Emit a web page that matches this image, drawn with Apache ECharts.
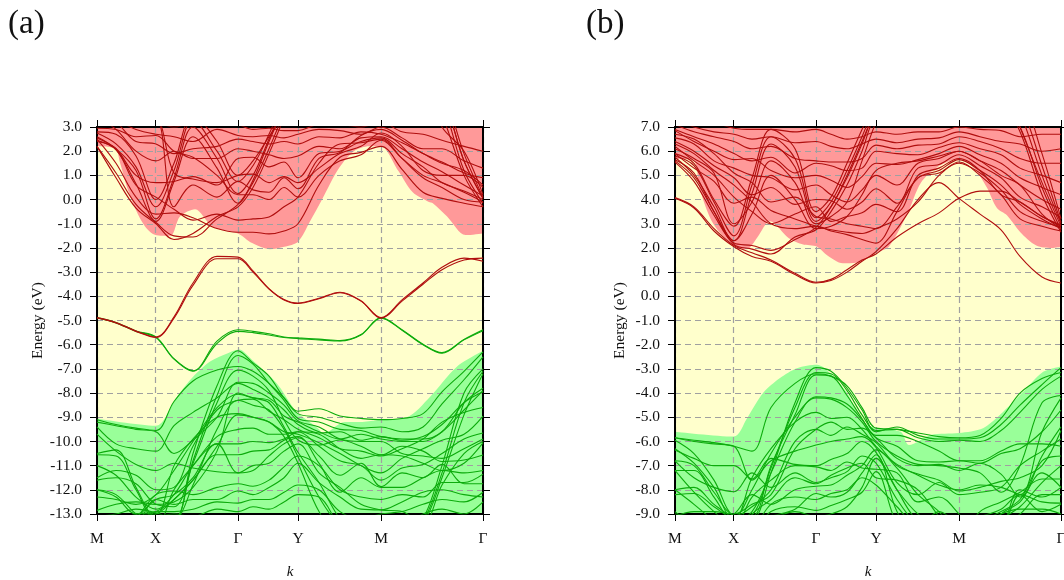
<!DOCTYPE html>
<html><head><meta charset="utf-8">
<style>html,body{margin:0;padding:0;background:#fff}#c{width:1064px;height:580px}</style>
<script src="https://cdn.jsdelivr.net/npm/echarts@6/dist/echarts.min.js"></script>
</head><body><div id="c"></div>
<script>
const kGrid=[0,.0492,.1010,.1528,.1995,.2487,.3109,.3653,.4041,.4456,.4845,.5207,.5751,.6295,.6839,.7358,.7902,.8446,.8938,.9508,1];
const kTicks=[0,.1516,.3653,.5207,.7358,1];
const kLabels=['M','X','Γ','Y','M','Γ'];

// panel (a)
const aCond=[
[-4.9,-5.1,-5.45,-5.7,-4.9,-3.55,-2.45,-2.45,-3.0,-3.7,-4.15,-4.3,-4.1,-3.85,-4.2,-4.9,-4.2,-3.5,-2.9,-2.5,-2.42],
[-4.88,-5.08,-5.43,-5.68,-4.85,-3.45,-2.35,-2.38,-2.95,-3.68,-4.13,-4.28,-4.08,-3.83,-4.18,-4.88,-4.15,-3.45,-2.8,-2.42,-2.55],
[2.2,0.9,-0.35,-1.0,-1.65,-1.4,-0.7,-0.3,0.5,1.9,3.4,5,5,5,5,5,5,5,3.5,1.0,-0.3],
[2.2,1.1,-0.2,-0.95,-1.5,-1.55,-0.8,-0.2,0.7,2.1,3.6,5,5,5,5,5,5,5,4,1.2,-0.15],
[2.5,1.5,0.1,-0.6,-0.55,-0.75,-1.2,-1.35,-1.35,-1.42,-1.3,-1.0,0.6,1.75,1.95,2.2,1.25,0.3,0.05,-0.15,-0.3],
[2.45,2.05,0.65,-0.9,0.75,2.6,1.3,-0.15,0.8,2.4,3.8,5,5,5,5,5,5,5,4.3,1.6,0.05],
[2.6,2.1,1.2,-0.8,0.9,3.0,1.7,0.25,1.0,2.5,3.9,5,5,5,5,5,5,5,4.3,1.6,0.05],
[2.75,2.3,1.35,-0.3,1.2,3.3,2.0,0.75,1.4,2.7,4.1,5,5,5,5,5,5,5.5,4.6,1.9,0.1],
[2.8,2.7,1.8,0.0,1.5,3.5,2.4,1.0,1.6,2.6,3.5,4.5,5,5,5,5,5,4.9,3.0,2.0,0.2],
[2.95,2.9,2.6,2.65,2.0,1.75,1.0,0.2,0.2,0.0,0.5,0.1,1.0,1.6,1.85,2.45,1.7,1.0,0.7,0.3,-0.1],
[2.4,2.1,0.6,0.1,-0.4,-0.85,-0.6,-0.85,-0.8,-0.72,-0.3,0.1,1.5,2.3,2.35,2.5,1.7,0.9,0.5,0.0,-0.1],
[2.55,2.1,1.0,0.7,0.75,0.95,0.6,1.7,1.75,1.35,1.55,0.9,1.9,2.0,2.4,2.55,1.9,1.35,0.7,0.35,0.0],
[3.4,2.9,2.0,1.6,2.0,1.7,1.7,2.1,2.0,1.85,1.7,1.8,2.2,2.1,2.55,2.6,2.1,1.55,1.15,0.6,0.15],
[3.5,3.2,2.4,2.3,1.9,2.1,2.2,2.5,2.4,2.3,2.4,2.3,2.6,2.55,2.8,2.7,2.35,1.9,1.5,1.2,0.6],
[3.7,3.3,2.9,2.7,2.6,2.4,2.9,2.65,2.6,2.65,2.55,2.7,2.9,2.85,2.7,3.0,2.55,2.1,2.1,1.6,1.3],
[3.9,3.6,3.3,3.2,3.0,3.2,3.3,3.1,2.9,2.95,2.85,2.85,3.1,3.1,3.0,3.2,2.8,2.7,2.45,2.2,2.0],
[4.2,3.9,3.5,3.4,1.1,0.85,0.7,1.0,1.05,0.7,0.95,0.7,1.3,1.9,2.2,2.75,2.2,1.2,1.0,1.0,0.5],
[4.3,4,3.6,3.5,-0.3,0.6,0.1,0.75,0.4,0.3,0.9,0.45,1.7,1.95,2.65,2.9,2.45,1.9,1.55,1.1,0.9]
];
const aVal=[
[-4.9,-5.1,-5.45,-5.7,-6.6,-7.1,-5.95,-5.45,-5.5,-5.6,-5.7,-5.75,-5.8,-5.85,-5.6,-4.9,-5.4,-6.0,-6.35,-5.8,-5.42],
[-4.88,-5.08,-5.43,-5.68,-6.58,-7.08,-5.85,-5.38,-5.45,-5.55,-5.68,-5.72,-5.77,-5.83,-5.58,-4.88,-5.38,-5.98,-6.33,-5.78,-5.38],
[-9.1,-9.3,-9.45,-9.55,-8.35,-7.5,-7.05,-6.9,-7.1,-7.6,-8.2,-8.75,-8.65,-8.95,-9.05,-9.1,-9.05,-8.85,-7.95,-7.1,-6.3],
[-10.5,-10.35,-11.9,-13.2,-13.3,-10.5,-7.7,-6.25,-6.75,-7.3,-8.2,-8.85,-9.0,-9.25,-9.45,-9.4,-9.6,-9.4,-8.45,-7.45,-6.5],
[-10.55,-10.6,-12.0,-13.2,-13.2,-10.8,-8.1,-6.45,-6.8,-7.6,-8.3,-9.05,-9.2,-9.5,-9.55,-9.8,-9.9,-9.9,-9.6,-8.4,-7.8],
[-11.6,-11.5,-11.75,-12.6,-12.7,-10.9,-8.4,-7.05,-7.3,-7.9,-9.1,-9.94,-10.15,-9.94,-10.2,-10.56,-10.2,-10.4,-10.83,-10.77,-10.56],
[-9.4,-10.1,-10.3,-10.4,-9.35,-8.8,-8.2,-7.6,-7.85,-8.2,-8.7,-9.3,-9.65,-9.6,-9.95,-9.8,-9.95,-9.8,-9.3,-8.4,-7.95],
[-9.7,-10.4,-10.95,-11.2,-10.9,-11.1,-11.25,-11.3,-11.2,-10.6,-10.1,-9.85,-10.6,-11.4,-10.9,-11.87,-11.3,-11.5,-10.95,-11.75,-11.75],
[-12.85,-12.6,-12.5,-12.6,-12.5,-11.9,-10.4,-8,-8.2,-8.4,-9.4,-10.45,-11.7,-13.2,-14,-14,-14,-13.3,-11.3,-8.4,-7.1],
[-13.1,-13,-12.8,-12.95,-13.2,-11.8,-9.5,-8.3,-8.5,-8.7,-9.5,-10.63,-12.3,-13.5,-14,-14,-14,-13.4,-11.5,-8.9,-7.2],
[-14,-13.5,-13.1,-13,-12.4,-11.6,-10.2,-8.9,-9,-9.2,-9.8,-10.9,-12.9,-14,-14,-14,-14,-13.2,-11,-8,-7],
[-12,-12.2,-13,-13.5,-12,-11,-9.8,-9.5,-9.45,-9.7,-9.7,-9.6,-9.7,-10.3,-10.7,-10.55,-10.6,-10.9,-11.2,-10.9,-10.05],
[-13.3,-13.2,-13.1,-12.4,-12.2,-11.5,-10.1,-10.1,-10.0,-10.05,-9.9,-9.6,-10.2,-10.8,-11,-11.6,-11.1,-10.95,-10.5,-9.9,-9.65],
[-13.5,-13.4,-13,-12.9,-12.4,-11.6,-10.55,-10.55,-10.4,-10.35,-9.95,-9.8,-10.9,-12.1,-11.5,-11.9,-11.9,-11.5,-11.2,-11.3,-11.2],
[-14,-14,-13.2,-12.2,-12.05,-12.2,-11.9,-11.75,-11.85,-11.6,-11.05,-10.6,-11.0,-12.0,-12.3,-12.4,-12.2,-12.3,-11.7,-11.7,-11.35],
[-14,-14,-13.5,-12.4,-12.6,-12.4,-12.4,-12.05,-12.2,-11.9,-11.5,-10.9,-11.7,-12.3,-12.8,-12.83,-12.5,-12.1,-12,-12.2,-12.3],
[-14,-14,-14,-12.9,-12.9,-12.8,-12.5,-12.55,-12.4,-12.4,-12.1,-11.8,-12.0,-12.9,-13.2,-13,-12.9,-12.6,-12.4,-12.5,-12.1],
[-14,-14,-14,-13.2,-13,-13.1,-12.8,-12.9,-12.7,-12.8,-12.5,-12.2,-12.3,-13.5,-14,-14,-13.5,-13,-12.8,-13,-12.5],
[-12.3,-12.4,-12.6,-12.2,-11.2,-10,-8.6,-8.05,-8.2,-8.3,-8.95,-9.2,-9.6,-9.9,-9.7,-9.9,-10.0,-10.0,-9.6,-8.7,-7.9],
[-11.5,-11.2,-11.4,-12,-11.9,-10.2,-8.7,-8.3,-8.25,-8.75,-9.1,-9.5,-9.85,-10.3,-10.4,-10.6,-10.3,-9.9,-9.2,-8.8,-8.6],
[-12,-12.3,-13,-13,-11,-9.9,-9.0,-8.85,-9,-9.2,-9.6,-9.7,-10.05,-10.5,-11,-11.3,-10.7,-10.3,-9.95,-9.7,-8.95],
[-9.2,-9.35,-9.5,-9.6,-10.5,-9.95,-9.0,-7.55,-7.6,-8.0,-8.5,-9.15,-9.4,-9.9,-10.0,-10,-10.5,-10.6,-10.7,-10.3,-9.9],
[-11,-11.4,-12.3,-12.8,-12.2,-11.0,-10.1,-11.3,-11.0,-10.9,-10.4,-10.1,-11.3,-11.9,-12.6,-12.83,-12.9,-13.4,-11.8,-10.5,-10.0]
];
const aRedEdgeK=[0,.047,.06,.078,.1,.124,.15,.19,.215,.254,.298,.365,.402,.448,.485,.521,.552,.583,.627,.666,.705,.735,.78,.818,.86,.87,.907,.955,1];
const aRedEdgeE=[2.2,2.1,1.5,0.5,-0.4,-1.1,-1.45,-1.5,-0.7,-0.4,-1.1,-1.4,-1.8,-2.05,-1.95,-1.74,-0.9,0,1.3,2.0,2.2,2.2,1.2,0.3,-0.1,-0.15,-0.7,-1.47,-1.4];
const aGreenEdgeK=[0,.152,.207,.249,.293,.339,.368,.4,.466,.508,.521,.575,.585,.642,.672,.736,.803,.863,.933,1];
const aGreenEdgeE=[-9.05,-9.35,-8.15,-7.33,-6.7,-6.35,-6.2,-6.6,-7.6,-8.6,-8.85,-9.5,-9.7,-9.2,-9.2,-9.1,-9.0,-8.15,-6.9,-6.25];

// panel (b)
const bCond=[
[4.05,3.65,2.7,2.05,1.65,1.45,0.9,0.55,0.65,1.0,1.45,1.85,2.8,4.0,4.7,4.05,3.4,2.75,1.65,0.8,0.55],
[4.08,3.7,2.8,2.1,1.8,1.5,0.95,0.58,0.7,1.1,1.5,1.75,2.45,3.0,3.45,4.05,4.35,4.35,3.9,3.3,2.9],
[5.55,4.75,3.35,2.15,1.95,1.75,2.45,2.75,3.5,4.6,6,7.5,8,8,8,8,8,8,7,4.5,2.75],
[5.6,4.9,3.5,2.2,2.1,1.9,2.35,2.85,3.7,4.9,6.3,7.6,8,8,8,8,8,8,6.8,4.2,2.65],
[5.65,5.1,3.5,2.3,4.25,6.3,5.35,3.1,3.7,5,6.4,7.7,9,9,9,9,9,9,7.6,5,3],
[5.8,5.4,3.9,2.5,4.6,6.6,5.7,3.25,3.9,5.2,6.6,7.9,9,9,9,9,9,9,8,5.4,3.05],
[5.9,5.5,4.0,2.9,4.9,6.9,6.1,3.5,4.1,5.5,6.9,8.1,9,9,9,9,9,9,8.5,5.9,3.2],
[6.1,5.7,5.1,3.0,3.9,5.6,4.7,3.0,3.3,3.9,5.6,7.2,9,9,9,9,9,9,7,4.7,2.9],
[5.75,5.0,3.7,2.3,3.4,5.0,4.0,2.8,2.9,3.3,4.2,5.2,5.5,5.6,5.8,6.0,5.6,5.0,4.6,3.4,2.8],
[6.3,5.9,5.2,4.6,3.9,3.0,2.8,2.9,2.7,2.55,2.35,2.2,3.5,4.9,5.1,5.55,5.0,4.2,3.2,2.9,2.7],
[6.7,6.5,5.9,5.1,4.7,3.9,4.1,3.3,3.2,3.0,2.9,2.8,3.7,4.9,5.2,5.65,5.2,4.6,3.8,3.2,2.8],
[5.9,5.3,4.75,3.85,4.1,3.55,3.2,2.9,2.75,2.65,2.6,2.8,3.2,3.9,5.0,5.5,5.1,4.4,3.5,3.1,2.85],
[6.2,5.6,5.0,4.1,3.5,3.0,3.4,3.7,3.1,3.3,3.45,3.8,3.5,5.0,5.3,5.7,5.2,4.2,3.9,3.3,2.95],
[6.4,6.0,5.4,4.9,4.2,4.5,3.8,4.0,3.95,3.6,3.9,4.45,3.85,5.3,5.45,5.85,5.4,4.9,4.1,3.7,3.25],
[6.55,6.3,5.6,5.3,5.0,4.9,4.4,4.6,4.2,3.9,4.4,5.0,4.6,5.5,5.7,6.0,5.6,5.2,4.6,4.0,3.6],
[6.85,6.4,6.0,5.65,5.7,5.2,4.9,5.0,4.8,4.5,4.95,5.5,5.45,5.65,5.9,6.2,5.85,5.5,4.9,4.5,4.2],
[6.9,6.6,6.3,5.9,5.6,5.75,5.1,5.5,5.4,5.2,5.3,6.0,5.9,5.85,6.15,6.35,6.1,5.85,5.3,5.0,4.7],
[7.1,6.8,6.6,6.4,6.1,6.2,5.7,5.6,5.55,5.55,5.7,6.25,6.1,6.25,6.3,6.6,6.4,6.1,5.7,5.5,5.5],
[7.3,7,6.8,6.7,6.5,6.6,6.35,6.4,6.2,6.1,6.3,6.5,6.35,6.5,6.55,6.8,6.6,6.4,6.3,6.0,6.1],
[8,7.5,7.2,6.95,6.9,6.9,6.8,6.9,6.7,6.5,6.6,6.8,6.7,6.8,6.8,7,6.9,6.85,6.6,6.7,6.7]
];
const bVal=[
[-5.85,-5.95,-6.05,-6.2,-6.4,-4.6,-3.6,-3.2,-3.3,-3.7,-4.6,-5.45,-5.5,-5.65,-5.8,-5.85,-5.75,-5.05,-4.0,-3.4,-3.15],
[-5.95,-6.5,-7.6,-9.1,-9.2,-7.3,-4.4,-2.95,-3.1,-3.8,-4.7,-5.6,-5.4,-5.75,-5.9,-5.9,-5.85,-5.3,-4.5,-3.65,-2.95],
[-6.3,-6.9,-7.9,-9.2,-9.05,-7.1,-4.6,-3.15,-3.2,-3.9,-4.9,-5.55,-5.5,-5.85,-6.0,-5.95,-6.0,-5.55,-4.8,-3.85,-3.3],
[-6.8,-7.0,-8.1,-9.05,-9.1,-7.0,-4.9,-3.25,-3.3,-4.1,-5.05,-5.75,-5.75,-6.0,-6.4,-6.8,-6.8,-6.4,-6.1,-6.1,-6.2],
[-7.2,-7.2,-8.3,-9.3,-8.9,-7.3,-5.2,-4.15,-4.2,-4.45,-5.1,-5.85,-6.2,-6.8,-6.85,-6.8,-6.9,-6.5,-6.3,-5.6,-4.7],
[-8.0,-7.9,-8.6,-9.1,-8.0,-6.5,-5.0,-4.2,-4.25,-4.6,-5.2,-6.0,-6.6,-6.95,-7.0,-7.1,-7.3,-8.1,-7.0,-4.4,-4.1],
[-8.2,-8.15,-8.7,-9.2,-7.5,-6.3,-5.2,-4.8,-5.05,-5.0,-5.5,-6.2,-6.95,-7.4,-7.8,-8.0,-7.8,-7.9,-8.2,-5.6,-4.2],
[-9.1,-8.9,-8.9,-9.0,-8.6,-8.2,-6.3,-5.5,-5.2,-5.5,-5.45,-5.85,-6.7,-7.0,-6.95,-7.2,-6.9,-7.35,-8.3,-6.6,-5.4],
[-9.4,-9.3,-9.1,-9.1,-8.7,-8.0,-6.0,-5.5,-5.75,-5.4,-5.7,-6.05,-7.0,-7.35,-7.6,-8.05,-7.9,-7.65,-7.5,-7.0,-5.55],
[-5.85,-6.0,-6.1,-6.2,-7.6,-6.8,-6.4,-6.15,-6.0,-5.9,-5.8,-6.25,-7.7,-8.2,-7.7,-8.2,-8.1,-7.9,-7.0,-6.4,-5.9],
[-6.35,-6.7,-7.0,-7.0,-7.55,-6.7,-6.95,-7.0,-6.75,-6.5,-6.0,-6.45,-8.0,-9.3,-9.5,-9.6,-9.3,-8.9,-8.4,-6.8,-6.6],
[-6.8,-7.5,-7.9,-8.08,-7.3,-7.9,-7.3,-7.7,-7.5,-7.25,-6.6,-6.9,-8.4,-9.5,-10,-10,-9.8,-9.2,-8.7,-7.7,-7.0],
[-7.2,-8.1,-8.9,-9.5,-8.3,-7.6,-7.0,-7.05,-7.2,-6.85,-7.1,-7.15,-7.3,-8.5,-8.3,-9,-10,-9.6,-8.0,-8.3,-7.9],
[-8,-8.6,-9.3,-10,-9,-8.4,-7.5,-7.75,-7.4,-7.1,-6.9,-7.5,-7.6,-8.0,-9.1,-10,-10,-9.5,-9.0,-8.2,-8.2],
[-8.9,-9.5,-10,-10,-9.7,-8.6,-8.3,-8.4,-8.15,-8.0,-7.5,-7.8,-8.7,-9.5,-8.9,-9.3,-9.1,-8.8,-8.2,-8.5,-8.55],
[-9.5,-9.7,-10,-10,-9.8,-8.9,-8.7,-8.85,-8.65,-8.4,-8.1,-7.25,-9.4,-10,-10,-10,-9.5,-9.0,-8.8,-8.8,-9.0],
[-9.9,-10,-9.8,-9.5,-9.3,-9.2,-8.9,-9.1,-9.0,-8.7,-7.9,-6.7,-8.0,-9.0,-9.5,-9.5,-9.2,-9.4,-8.2,-8.9,-8.6],
[-10,-10,-10,-10,-9.4,-9.1,-8.8,-8.15,-8.3,-8.1,-7.3,-6.55,-8.9,-10,-10,-10,-10,-9,-8.5,-7.3,-7.9],
[-9.0,-9.1,-9.2,-9.0,-8.2,-8.6,-8.0,-7.85,-7.8,-7.4,-7.0,-6.35,-7.1,-8.2,-8.9,-9.9,-8.9,-8.5,-8.1,-7.55,-7.55]
];
const bRedEdgeK=[0,.047,.065,.098,.143,.181,.193,.214,.246,.295,.33,.368,.394,.435,.472,.52,.554,.603,.637,.68,.735,.772,.808,.834,.86,.894,.936,.977,1];
const bRedEdgeE=[5.68,5.64,4.4,3.03,2.2,1.95,2.0,2.45,3.1,2.4,2.15,2.05,1.7,1.37,1.4,1.8,2.05,3.45,4.7,5.35,5.68,5.35,4.5,3.65,3.35,2.66,2.1,2.0,2.05];
const bGreenEdgeK=[0,.152,.187,.228,.272,.316,.368,.402,.446,.487,.52,.585,.606,.663,.736,.798,.842,.902,.953,1];
const bGreenEdgeE=[-5.6,-5.8,-5.03,-4,-3.38,-2.97,-2.83,-3.18,-4,-5.2,-5.45,-5.6,-6.15,-5.73,-5.65,-5.45,-4.9,-3.95,-3.13,-2.9];

const SERIF='"Liberation Serif","Times New Roman",serif';
const RED='#b00e0e',GREEN='#0cab0c';
const FILL_RED='#ff9999',FILL_GREEN='#99ff99',BG='#ffffcc';
const panels=[
 {left:97,width:386,min:-13,max:3,cond:aCond,val:aVal,rk:aRedEdgeK,re:aRedEdgeE,gk:aGreenEdgeK,ge:aGreenEdgeE,tag:'(a)',tagX:3},
 {left:675,width:386,min:-9,max:7,cond:bCond,val:bVal,rk:bRedEdgeK,re:bRedEdgeE,gk:bGreenEdgeK,ge:bGreenEdgeE,tag:'(b)',tagX:581}
];
const grids=[],xAxes=[],yAxes=[],series=[],titles=[];
const axisLine={onZero:false,lineStyle:{color:'#000',width:2}};
const tick={show:true,length:7,lineStyle:{color:'#000',width:1}};
const dash={show:true,lineStyle:{color:'#a0a0a0',type:[6,4],width:1.2}};
panels.forEach((p,i)=>{
  grids.push({left:p.left,width:p.width,top:127,height:387,show:true,backgroundColor:BG,borderWidth:0,outerBoundsMode:'none'});
  const xi=xAxes.length,yi=yAxes.length;
  xAxes.push({type:'value',gridIndex:i,min:0,max:1,position:'bottom',z:3,
    axisLine,axisTick:{...tick,customValues:kTicks},splitLine:{...dash},
    axisLabel:{customValues:kTicks,margin:17,color:'#111',fontFamily:SERIF,fontSize:15.5,showMinLabel:true,showMaxLabel:true,
      formatter:v=>kLabels[kTicks.indexOf(v)]},
    name:'k',nameLocation:'middle',nameGap:51,nameTextStyle:{fontFamily:SERIF,fontStyle:'italic',fontSize:15,color:'#111'}});
  xAxes.push({type:'value',gridIndex:i,min:0,max:1,position:'top',z:3,
    axisLine,axisTick:{...tick,customValues:kTicks},splitLine:{show:false},axisLabel:{show:false}});
  yAxes.push({type:'value',gridIndex:i,min:p.min,max:p.max,interval:1,position:'left',z:3,
    axisLine,axisTick:tick,splitLine:{...dash},
    axisLabel:{margin:15,color:'#111',fontFamily:SERIF,fontSize:15.5,formatter:v=>v.toFixed(1)},
    name:'Energy (eV)',nameLocation:'middle',nameGap:47,nameTextStyle:{fontFamily:SERIF,fontSize:15.5,color:'#111'}});
  yAxes.push({type:'value',gridIndex:i,min:p.min,max:p.max,interval:1,position:'right',z:3,
    axisLine,axisTick:tick,splitLine:{show:false},axisLabel:{show:false}});
  const zip=(k,e)=>k.map((v,j)=>[v,e[j]]);
  series.push({type:'line',xAxisIndex:xi,yAxisIndex:yi,z:1,silent:true,showSymbol:false,smooth:.3,
    lineStyle:{width:0},itemStyle:{color:FILL_RED},areaStyle:{color:FILL_RED,opacity:1,origin:'end'},data:zip(p.rk,p.re)});
  series.push({type:'line',xAxisIndex:xi,yAxisIndex:yi,z:1,silent:true,showSymbol:false,smooth:.3,
    lineStyle:{width:0},itemStyle:{color:FILL_GREEN},areaStyle:{color:FILL_GREEN,opacity:1,origin:'start'},data:zip(p.gk,p.ge)});
  const addBands=(bands,color)=>bands.forEach(b=>series.push({type:'line',xAxisIndex:xi,yAxisIndex:yi,z:4,silent:true,
    showSymbol:false,smooth:.35,clip:true,lineStyle:{color,width:1.1},data:zip(kGrid,b)}));
  addBands(p.val,GREEN);addBands(p.cond,RED);
  titles.push({text:p.tag,left:p.tagX,top:3,textStyle:{fontFamily:SERIF,fontWeight:'normal',fontSize:33,color:'#111'}});
});
const chart=echarts.init(document.getElementById('c'),null,{renderer:'canvas'});
chart.setOption({animation:false,backgroundColor:'#fff',title:titles,grid:grids,xAxis:xAxes,yAxis:yAxes,series});
</script></body></html>
